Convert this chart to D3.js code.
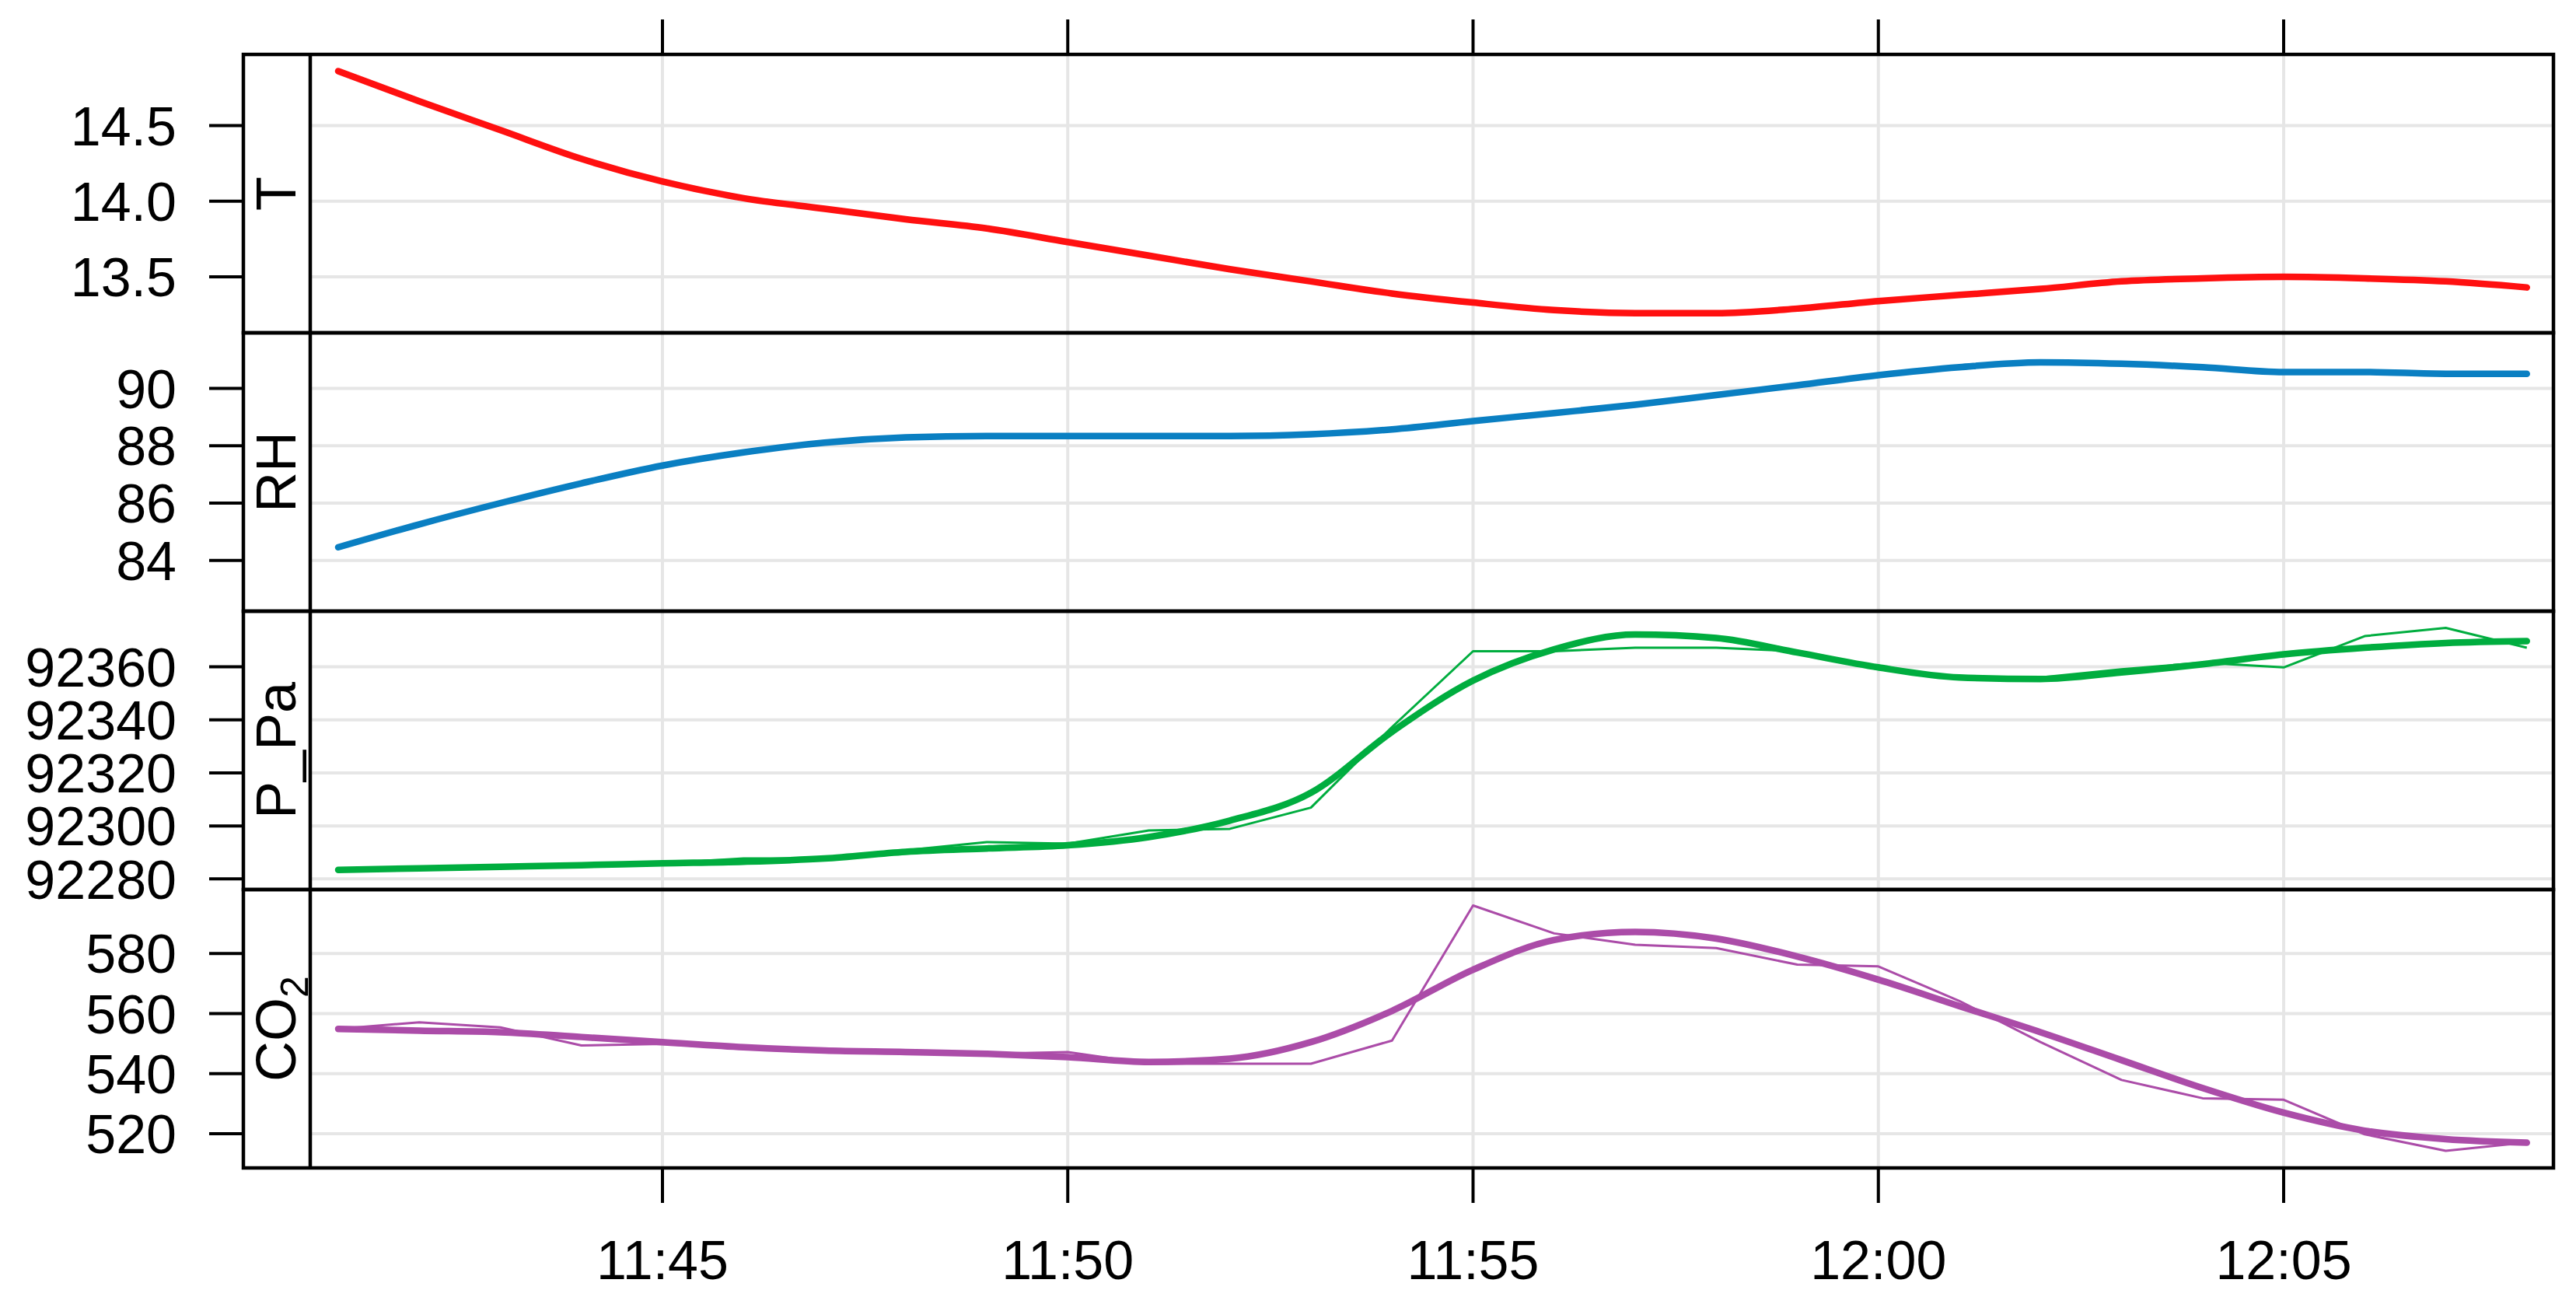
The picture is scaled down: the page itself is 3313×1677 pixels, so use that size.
<!DOCTYPE html>
<html>
<head>
<meta charset="utf-8">
<script src="https://cdn.jsdelivr.net/npm/d3@7"></script>
<style>
  body { margin: 0; background: #fff; }
  text { font-family: Arial, "Liberation Sans", sans-serif; }
</style>
</head>
<body>
<svg id="chart" width="3313" height="1677"></svg>
<script>
// minutes after 11:00, one sample per minute
var minutes = d3.range(41, 69);

var tSmooth = [14.86, 14.66, 14.47, 14.28, 14.13, 14.02, 13.95, 13.88, 13.82, 13.73, 13.64, 13.55, 13.47, 13.39,
    13.33, 13.28, 13.26, 13.26, 13.29, 13.34, 13.38, 13.42, 13.47, 13.49, 13.50, 13.49, 13.47, 13.43];

var rhSmooth = [84.46, 85.26, 86.0, 86.69, 87.31, 87.77, 88.11, 88.29, 88.34, 88.34, 88.34, 88.34, 88.4, 88.57,
    88.86, 89.14, 89.43, 89.77, 90.11, 90.46, 90.74, 90.91, 90.86, 90.74, 90.57, 90.57, 90.51, 90.51];

var pSmooth = [92283.4, 92284.0, 92284.6, 92285.2, 92285.9, 92286.5, 92287.7, 92290.2, 92291.5, 92292.7, 92295.8,
    92302.0, 92312.5, 92335.5, 92354.8, 92366.6, 92372.2, 92370.9, 92365.4, 92359.8, 92356.0, 92355.4, 92357.9,
    92361.0, 92364.7, 92367.2, 92369.0, 92369.7];
var pRaw = [92283.4, 92284.0, 92284.6, 92285.2, 92285.9, 92287.7, 92287.7, 92290.8, 92293.9, 92293.3, 92298.3,
    92298.9, 92306.9, 92337.3, 92365.9, 92365.9, 92367.2, 92367.2, 92365.9, 92359.1, 92356.0, 92356.0, 92359.1,
    92361.6, 92359.8, 92371.6, 92374.7, 92367.2];

var co2Smooth = [554.9, 554.3, 553.8, 552.2, 550.5, 548.8, 547.7, 547.2, 546.6, 545.5, 543.9, 545.0, 550.5, 560.9,
    574.6, 584.5, 587.2, 585.0, 579.0, 571.3, 562.5, 553.8, 544.5, 535.2, 527.0, 521.0, 518.2, 517.0];
var co2Raw = [554.9, 557.1, 555.4, 549.4, 549.9, 548.3, 548.3, 547.2, 546.6, 547.2, 543.3, 543.3, 543.3, 551.0,
    596.0, 586.7, 582.9, 581.8, 576.3, 575.7, 564.2, 550.5, 537.9, 531.8, 531.3, 519.8, 514.3, 517.1];

var timeTicks = [45, 50, 55, 60, 65];

var panels = [
    { name: "T", color: "#ff1010", smooth: tSmooth, raw: null, domain: [13.13, 14.97], ticks: [13.5, 14.0, 14.5], fmt: d3.format(".1f") },
    { name: "RH", color: "#0a7fc2", smooth: rhSmooth, raw: null, domain: [82.23, 91.94], ticks: [84, 86, 88, 90], fmt: d3.format("d") },
    { name: "P_Pa", color: "#00ad3f", smooth: pSmooth, raw: pRaw, domain: [92276, 92381], ticks: [92280, 92300, 92320, 92340, 92360], fmt: d3.format("d") },
    { name: "CO2", color: "#ab4ca8", smooth: co2Smooth, raw: co2Raw, domain: [508.6, 601.3], ticks: [520, 540, 560, 580], fmt: d3.format("d") }
];

(function() {
    function tm(m) { return new Date(2020, 0, 1, 11, m); }

    var frameL = 313, stripR = 399, frameR = 3284, frameT = 70, frameB = 1502;
    var ph = (frameB - frameT) / panels.length;

    var x = d3.scaleTime().domain([tm(45), tm(65)]).range([852, 2937]);
    x.domain([x.invert(stripR), x.invert(frameR)]).range([stripR, frameR]);

    var svg = d3.select("#chart");

    // vertical grid through all panels
    svg.append("g").selectAll("line").data(timeTicks).enter().append("line")
        .attr("x1", function(d) { return x(tm(d)); })
        .attr("x2", function(d) { return x(tm(d)); })
        .attr("y1", frameT).attr("y2", frameB)
        .attr("stroke", "#e6e6e6").attr("stroke-width", 4);

    panels.forEach(function(p, i) {
        var y0 = frameT + i * ph, y1 = y0 + ph;
        var y = d3.scaleLinear().domain(p.domain).range([y1, y0]);
        var g = svg.append("g");

        g.selectAll("line.grid").data(p.ticks).enter().append("line")
            .attr("class", "grid")
            .attr("x1", stripR).attr("x2", frameR)
            .attr("y1", y).attr("y2", y)
            .attr("stroke", "#e6e6e6").attr("stroke-width", 4);

        var line = d3.line()
            .x(function(d, j) { return x(tm(minutes[j])); })
            .y(function(d) { return y(d); });

        if (p.raw) {
            g.append("path").datum(p.raw)
                .attr("d", line.curve(d3.curveLinear))
                .attr("fill", "none").attr("stroke", p.color).attr("stroke-width", 3)
                .attr("stroke-linejoin", "round");
        }
        g.append("path").datum(p.smooth)
            .attr("d", line.curve(d3.curveMonotoneX))
            .attr("fill", "none").attr("stroke", p.color).attr("stroke-width", 8.5)
            .attr("stroke-linecap", "round").attr("stroke-linejoin", "round");

        // left ticks and labels
        g.selectAll("line.tick").data(p.ticks).enter().append("line")
            .attr("class", "tick")
            .attr("x1", 269).attr("x2", frameL)
            .attr("y1", y).attr("y2", y)
            .attr("stroke", "#000").attr("stroke-width", 4);
        g.selectAll("text.tick").data(p.ticks).enter().append("text")
            .attr("class", "tick")
            .attr("x", 227).attr("y", y)
            .attr("dy", "0.36em")
            .attr("text-anchor", "end")
            .attr("font-size", 70)
            .text(p.fmt);

        // strip label
        var lab = g.append("text")
            .attr("transform", "translate(" + ((frameL + stripR) / 2 + 24) + "," + ((y0 + y1) / 2) + ") rotate(-90)")
            .attr("text-anchor", "middle")
            .attr("font-size", 72);
        if (p.name === "CO2") {
            lab.append("tspan").text("CO");
            lab.append("tspan").attr("font-size", 50).attr("dy", 16).text("2");
        } else {
            lab.text(p.name);
        }

        g.append("rect")
            .attr("x", frameL).attr("y", y0)
            .attr("width", frameR - frameL).attr("height", ph)
            .attr("fill", "none").attr("stroke", "#000").attr("stroke-width", 4.5);
        g.append("line")
            .attr("x1", stripR).attr("x2", stripR).attr("y1", y0).attr("y2", y1)
            .attr("stroke", "#000").attr("stroke-width", 4.5);
    });

    // time ticks top and bottom
    svg.append("g").selectAll("line").data(timeTicks).enter().append("line")
        .attr("x1", function(d) { return x(tm(d)); })
        .attr("x2", function(d) { return x(tm(d)); })
        .attr("y1", 25).attr("y2", frameT)
        .attr("stroke", "#000").attr("stroke-width", 4);
    svg.append("g").selectAll("line").data(timeTicks).enter().append("line")
        .attr("x1", function(d) { return x(tm(d)); })
        .attr("x2", function(d) { return x(tm(d)); })
        .attr("y1", frameB).attr("y2", 1547)
        .attr("stroke", "#000").attr("stroke-width", 4);
    svg.append("g").selectAll("text").data(timeTicks).enter().append("text")
        .attr("x", function(d) { return x(tm(d)); })
        .attr("y", 1645)
        .attr("text-anchor", "middle")
        .attr("font-size", 70)
        .text(function(d) { return d3.timeFormat("%H:%M")(tm(d)); });
})();
</script>
</body>
</html>
